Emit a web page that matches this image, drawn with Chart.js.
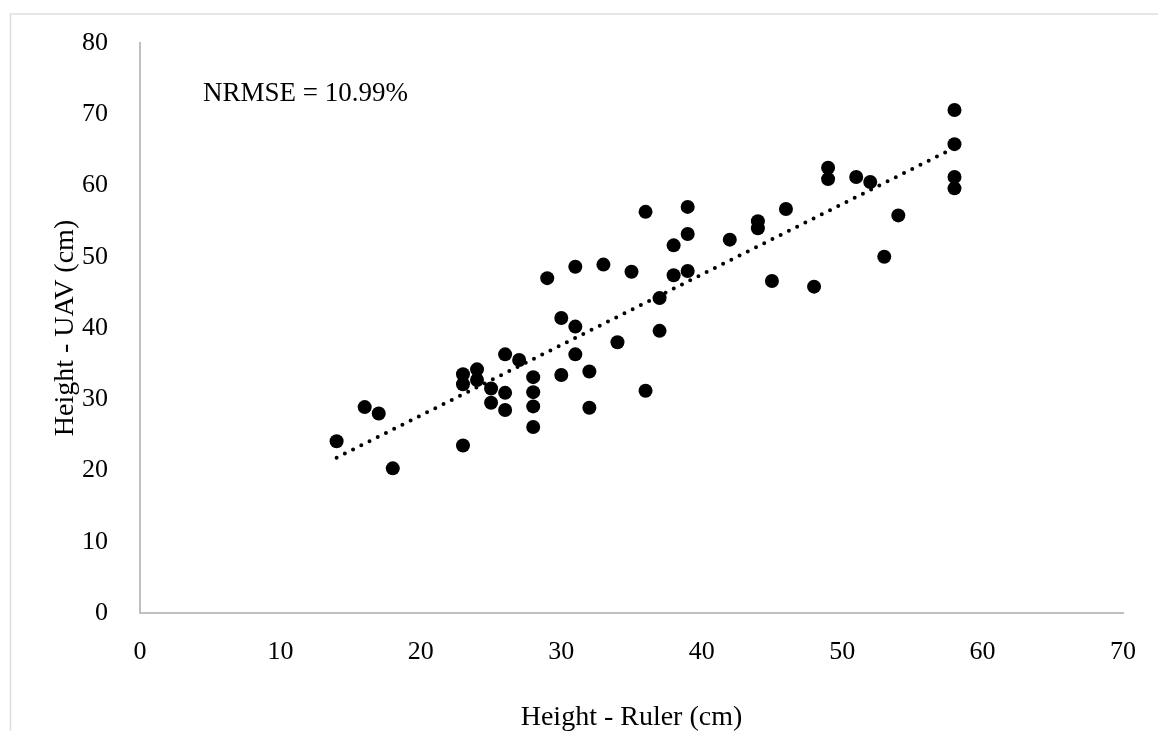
<!DOCTYPE html>
<html>
<head>
<meta charset="utf-8">
<script src="https://cdn.jsdelivr.net/npm/chart.js@4.4.0/dist/chart.umd.min.js"></script>
<style>
  html, body { margin: 0; padding: 0; background: #fff; overflow: hidden; }
  #wrap { width: 1158px; height: 760px; }
</style>
</head>
<body>
<div id="wrap"><canvas id="chart"></canvas></div>
<script>
// ruler height (x) and UAV height (y)
const rulerHeights = [14, 16, 17, 18, 23, 23, 23, 24, 24, 25, 25, 26, 26, 26, 27, 28, 28, 28, 28,
  29, 30, 30, 31, 31, 31, 32, 32, 33, 34, 35, 36, 36, 37, 37, 38, 38, 39, 39, 39,
  42, 44, 44, 45, 46, 48, 49, 49, 51, 52, 53, 54, 58, 58, 58, 58];
const uavHeights = [24.1, 28.9, 28.0, 20.3, 23.5, 33.5, 32.1, 34.2, 32.7, 31.5, 29.5, 36.3, 30.9, 28.5, 35.5, 33.1, 31.0, 29.0, 26.1,
  47.0, 41.4, 33.4, 48.6, 40.2, 36.3, 33.9, 28.8, 48.9, 38.0, 47.9, 56.3, 31.2, 44.2, 39.6, 51.6, 47.4, 57.0, 53.2, 48.0,
  52.4, 55.0, 54.0, 46.6, 56.7, 45.8, 62.5, 60.9, 61.2, 60.5, 50.0, 55.8, 70.6, 65.8, 61.2, 59.6];

// linear trendline ends
const trendX = [14, 58];
const trendY = [21.8, 65.3];

const annotationText = 'NRMSE = 10.99%';
const serif = "'Liberation Serif', 'Times New Roman', serif";

const points = rulerHeights.map((x, i) => ({ x: x, y: uavHeights[i] }));
const trend = trendX.map((x, i) => ({ x: x, y: trendY[i] }));

const frameAndNote = {
  id: 'frameAndNote',
  beforeDraw(chart) {
    const ctx = chart.ctx;
    ctx.save();
    ctx.strokeStyle = '#dedede';
    ctx.lineWidth = 1.5;
    ctx.strokeRect(10.5, 14, 1300, 900);
    ctx.restore();
  },
  afterDraw(chart) {
    const ctx = chart.ctx;
    ctx.save();
    ctx.fillStyle = '#000';
    ctx.font = '27px ' + serif;
    ctx.textBaseline = 'alphabetic';
    ctx.fillText(annotationText, 203, 100.5);
    ctx.restore();
  }
};

new Chart(document.getElementById('chart').getContext('2d'), {
  type: 'scatter',
  data: {
    datasets: [
      {
        label: 'trend',
        data: trend,
        showLine: true,
        borderColor: '#000',
        borderWidth: 4,
        borderDash: [0, 9.2],
        borderCapStyle: 'round',
        pointRadius: 0,
        fill: false,
        order: 2
      },
      {
        label: 'Height',
        data: points,
        backgroundColor: '#000',
        borderColor: '#000',
        pointRadius: 7,
        pointBorderWidth: 0,
        order: 1
      }
    ]
  },
  options: {
    responsive: true,
    maintainAspectRatio: false,
    animation: false,
    layout: { padding: { top: 43, right: 35, left: 0, bottom: 0 } },
    plugins: {
      legend: { display: false },
      tooltip: { enabled: false }
    },
    scales: {
      x: {
        type: 'linear',
        min: 0,
        max: 70,
        grid: { display: false },
        border: { display: true, color: '#bfbfbf', width: 2 },
        ticks: {
          stepSize: 10,
          padding: 16,
          color: '#000',
          font: { family: serif, size: 26 }
        },
        title: {
          display: true,
          text: 'Height - Ruler (cm)',
          color: '#000',
          font: { family: serif, size: 28 },
          padding: { top: 0, bottom: 26 }
        },
        afterFit(scale) { scale.height = 147; }
      },
      y: {
        type: 'linear',
        min: 0,
        max: 80,
        grid: { display: false },
        border: { display: true, color: '#bfbfbf', width: 2 },
        ticks: {
          stepSize: 10,
          padding: 24,
          color: '#000',
          font: { family: serif, size: 26 }
        },
        title: {
          display: true,
          text: 'Height - UAV (cm)',
          color: '#000',
          font: { family: serif, size: 28 },
          padding: { top: 49, bottom: 0 }
        },
        afterFit(scale) { scale.width = 140; }
      }
    }
  },
  plugins: [frameAndNote]
});
</script>
</body>
</html>
